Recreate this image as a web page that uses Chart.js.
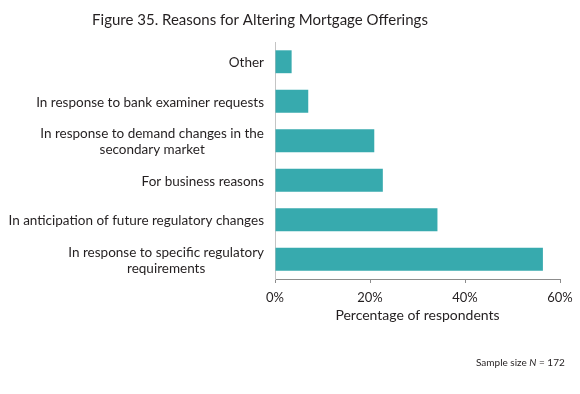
<!DOCTYPE html>
<html>
<head>
<meta charset="utf-8">
<script src="https://cdn.jsdelivr.net/npm/chart.js@4"></script>
<style>
  html, body { margin: 0; padding: 0; background: #fff; }
  #wrap { position: relative; width: 580px; height: 394px; }
</style>
</head>
<body>
<div id="wrap"><canvas id="chart" width="580" height="394"></canvas></div>
<script>
const categories = [
  'Other',
  'In response to bank examiner requests',
  ['In response to demand changes in the', 'secondary market'],
  'For business reasons',
  'In anticipation of future regulatory changes',
  ['In response to specific regulatory', 'requirements']
];
const shares = [3.5, 7.0, 20.9, 22.7, 34.2, 56.4];
const xTicks = [0, 20, 40, 60];
const titleText = 'Figure 35. Reasons for Altering Mortgage Offerings';
const axisTitle = 'Percentage of respondents';

const FONT = 'Lato, "Open Sans", sans-serif';
const TEXT = '#231f20';

// labels on the y axis: single lines right aligned, wrapped lines centred on each other
const textPlugin = {
  id: 'texts',
  afterDraw(chart) {
    const ctx = chart.ctx;
    const y = chart.scales.y;
    ctx.save();
    ctx.fillStyle = TEXT;
    ctx.font = '13.5px ' + FONT;
    ctx.textBaseline = 'middle';
    const right = 264;
    categories.forEach((lab, i) => {
      const cy = y.getPixelForValue(i);
      if (Array.isArray(lab)) {
        const w = Math.max(...lab.map(l => ctx.measureText(l).width));
        ctx.textAlign = 'center';
        const lh = 16;
        lab.forEach((l, j) => {
          ctx.fillText(l, right - w / 2, cy + (j - (lab.length - 1) / 2) * lh + 1);
        });
      } else {
        ctx.textAlign = 'right';
        ctx.fillText(lab, right, cy + 1);
      }
    });

    ctx.textAlign = 'center';
    ctx.font = '15px ' + FONT;
    ctx.fillText(titleText, 260, 20);

    // footnote
    ctx.textAlign = 'left';
    let x = 476;
    const parts = [['Sample size ', ''], ['N', 'italic '], [' = 172', '']];
    parts.forEach(p => {
      ctx.font = p[1] + '10px ' + FONT;
      ctx.fillText(p[0], x, 363);
      x += ctx.measureText(p[0]).width;
    });
    ctx.restore();
  }
};

new Chart(document.getElementById('chart'), {
  type: 'bar',
  data: {
    labels: categories,
    datasets: [{
      data: shares,
      backgroundColor: '#37aaae',
      borderWidth: 0,
      barPercentage: 0.58,
      categoryPercentage: 1
    }]
  },
  options: {
    indexAxis: 'y',
    responsive: false,
    animation: false,
    devicePixelRatio: 1,
    layout: { padding: { top: 42, right: 20, bottom: 0, left: 0 } },
    plugins: { legend: { display: false }, tooltip: { enabled: false }, title: { display: false } },
    scales: {
      x: {
        min: 0,
        max: 60,
        afterBuildTicks(s) { s.ticks = xTicks.map(v => ({ value: v })); },
        afterFit(s) { s.height = 115; },
        grid: { drawOnChartArea: false, drawTicks: true, tickLength: 4, color: '#8c8c8c' },
        border: { color: '#8c8c8c' },
        ticks: {
          padding: 7,
          color: TEXT,
          font: { family: FONT, size: 13 },
          callback: v => v + '%'
        },
        title: {
          display: true,
          text: axisTitle,
          color: TEXT,
          font: { family: FONT, size: 14 },
          padding: { top: 0, bottom: 70 }
        }
      },
      y: {
        grid: { display: false },
        border: { color: '#c4c4c4' },
        ticks: { display: false },
        afterFit(s) { s.width = 275; }
      }
    }
  },
  plugins: [textPlugin]
});
</script>
</body>
</html>
